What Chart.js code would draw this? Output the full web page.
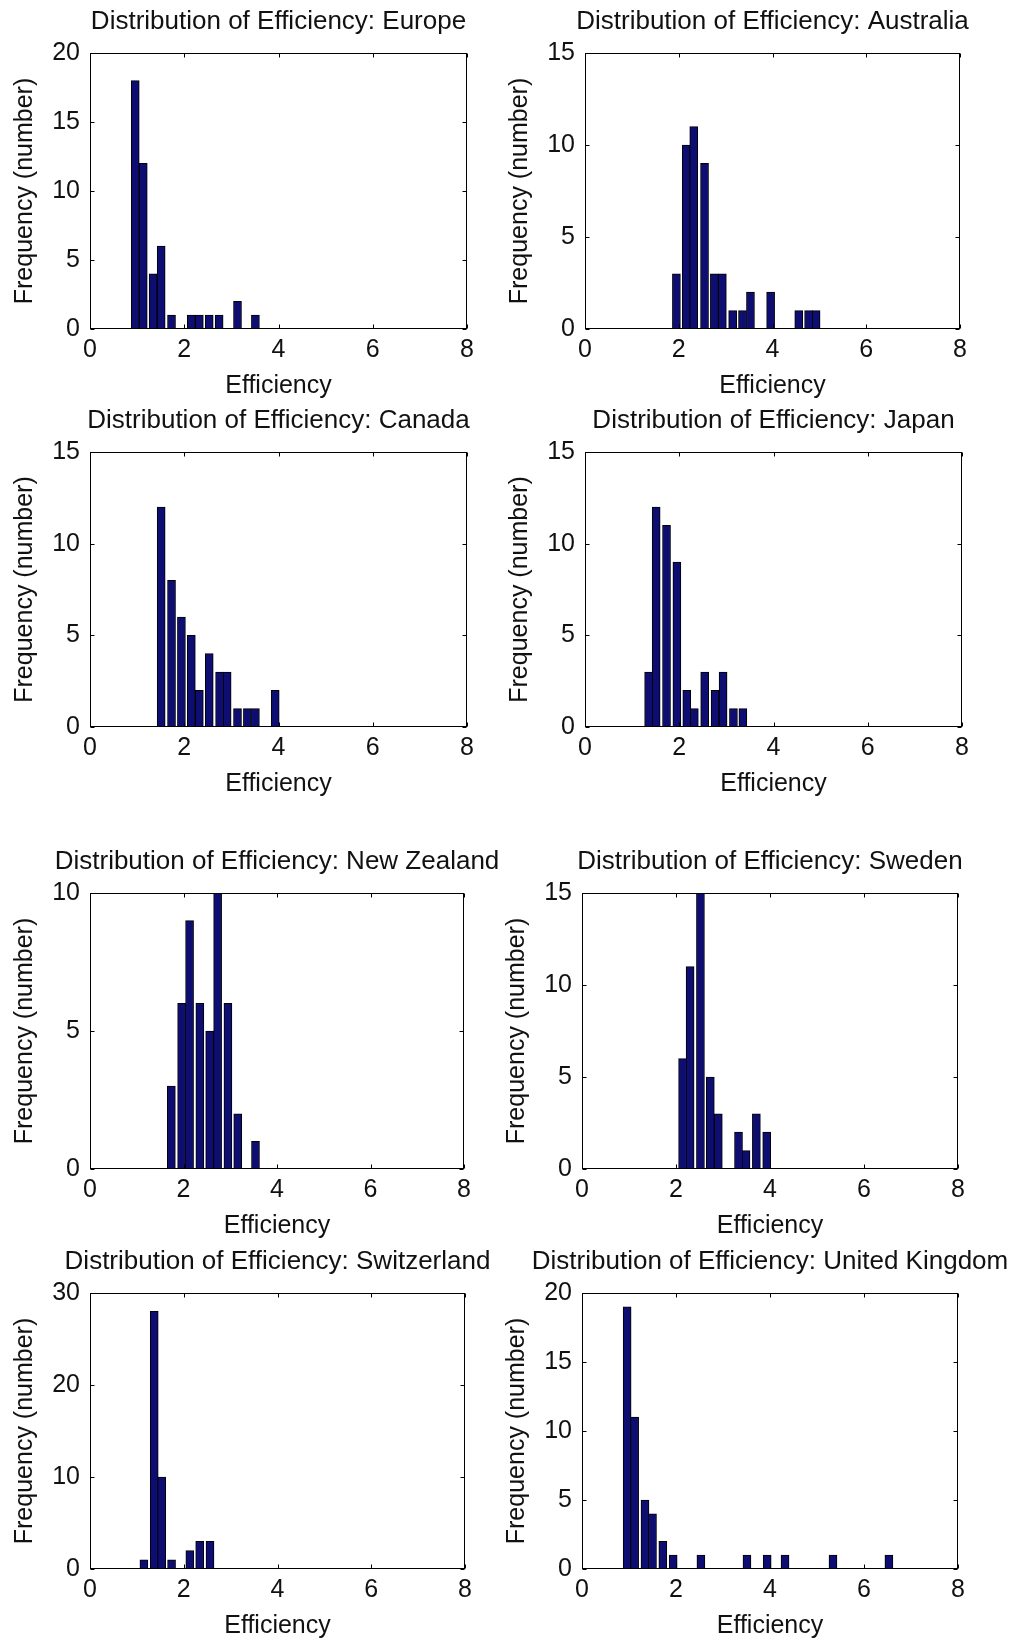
<!DOCTYPE html>
<html>
<head>
<meta charset="utf-8">
<script src="https://cdn.jsdelivr.net/npm/chart.js@4.4.1/dist/chart.umd.min.js"></script>
<style>
  html, body { margin: 0; padding: 0; background: #fff; overflow: hidden; }
  #wrap { position: relative; width: 1010px; height: 1644px; }
  #wrap canvas { position: absolute; }
</style>
</head>
<body>
<div id="wrap"></div>
<script>
// bin centres (Efficiency) and counts
const europeX = [0.96, 1.13, 1.34, 1.51, 1.73, 2.15, 2.32, 2.53, 2.74, 3.13, 3.51];
const europeY = [18, 12, 4, 6, 1, 1, 1, 1, 1, 2, 1];

const australiaX = [1.95, 2.16, 2.32, 2.55, 2.76, 2.93, 3.15, 3.36, 3.53, 3.96, 4.56, 4.77, 4.93];
const australiaY = [3, 10, 11, 9, 3, 3, 1, 1, 2, 2, 1, 1, 1];

const canadaX = [1.51, 1.73, 1.94, 2.15, 2.32, 2.53, 2.75, 2.91, 3.13, 3.34, 3.51, 3.93];
const canadaY = [12, 8, 6, 5, 2, 4, 3, 3, 1, 1, 1, 2];

const japanX = [1.35, 1.51, 1.73, 1.95, 2.16, 2.32, 2.54, 2.76, 2.93, 3.15, 3.35];
const japanY = [3, 12, 11, 9, 2, 1, 3, 2, 3, 1, 1];

const newZealandX = [1.74, 1.96, 2.13, 2.35, 2.56, 2.73, 2.95, 3.16, 3.54];
const newZealandY = [3, 6, 9, 6, 5, 10, 6, 2, 1];

const swedenX = [2.14, 2.30, 2.52, 2.73, 2.90, 3.33, 3.49, 3.71, 3.93];
const swedenY = [6, 11, 15, 5, 3, 2, 1, 3, 2];

const switzerlandX = [1.15, 1.37, 1.53, 1.74, 2.13, 2.34, 2.56];
const switzerlandY = [1, 28, 10, 1, 2, 3, 3];

const ukX = [0.96, 1.12, 1.34, 1.50, 1.72, 1.94, 2.53, 3.51, 3.94, 4.32, 5.34, 6.53];
const ukY = [19, 11, 5, 4, 2, 1, 1, 1, 1, 1, 1, 1];

const yMaxes = [20, 15, 15, 15, 10, 15, 30, 20];
const yStepSizes = [5, 5, 5, 5, 5, 5, 10, 5];

const titles = [
  "Distribution of Efficiency: Europe",
  "Distribution of Efficiency: Australia",
  "Distribution of Efficiency: Canada",
  "Distribution of Efficiency: Japan",
  "Distribution of Efficiency: New Zealand",
  "Distribution of Efficiency: Sweden",
  "Distribution of Efficiency: Switzerland",
  "Distribution of Efficiency: United Kingdom"
];
const xSeries = [europeX, australiaX, canadaX, japanX, newZealandX, swedenX, switzerlandX, ukX];
const ySeries = [europeY, australiaY, canadaY, japanY, newZealandY, swedenY, switzerlandY, ukY];

// plot-area boxes on the page: left, top, width, height
const plotBoxes = [
  [90, 53, 377, 276], [585, 53, 375, 276],
  [90, 452, 377, 275], [585, 452, 377, 275],
  [90, 893, 374, 276], [582, 893, 376, 276],
  [90, 1293, 375, 276], [582, 1293, 376, 276]
];

const FONT = "'Liberation Sans', Arial, sans-serif";
const TEXT = "#111";
const BAR_FILL = "#0e0e72";

// MATLAB style box with inward tick marks on all four sides
const boxPlugin = {
  id: "matlabBox",
  afterDraw(chart) {
    const { ctx, chartArea: a, scales } = chart;
    const L = Math.round(a.left) + 0.5, R = Math.round(a.right) - 0.5;
    const T = Math.round(a.top) + 0.5, B = Math.round(a.bottom) - 0.5;
    ctx.save();
    ctx.strokeStyle = "#000";
    ctx.lineWidth = 1;
    ctx.strokeRect(L, T, R - L, B - T);
    ctx.beginPath();
    scales.x.ticks.forEach(t => {
      const px = Math.round(scales.x.getPixelForValue(t.value)) + 0.5;
      ctx.moveTo(px, B); ctx.lineTo(px, B - 4);
      ctx.moveTo(px, T); ctx.lineTo(px, T + 4);
    });
    scales.y.ticks.forEach(t => {
      const py = Math.round(scales.y.getPixelForValue(t.value)) + 0.5;
      ctx.moveTo(L, py); ctx.lineTo(L + 4, py);
      ctx.moveTo(R, py); ctx.lineTo(R - 4, py);
    });
    ctx.stroke();
    ctx.restore();
  }
};

const wrap = document.getElementById("wrap");

titles.forEach((title, i) => {
  const [bx, by, bw, bh] = plotBoxes[i];
  const cv = document.createElement("canvas");
  cv.width = bw + 180;
  cv.height = bh + 138;
  cv.style.left = (bx - 90) + "px";
  cv.style.top = (by - 53) + "px";
  wrap.appendChild(cv);

  const pts = xSeries[i].map((x, k) => ({ x: x, y: ySeries[i][k] }));

  new Chart(cv.getContext("2d"), {
    type: "bar",
    data: {
      datasets: [{
        data: pts,
        backgroundColor: BAR_FILL,
        borderColor: "#000",
        borderWidth: 1,
        barThickness: 8
      }]
    },
    options: {
      responsive: false,
      animation: false,
      devicePixelRatio: 1,
      layout: { padding: 0 },
      plugins: {
        legend: { display: false },
        tooltip: { enabled: false },
        title: {
          display: true,
          text: title,
          color: TEXT,
          font: { family: FONT, size: 26, weight: "normal", lineHeight: 1 },
          padding: { top: 9, bottom: 18 }
        }
      },
      scales: {
        x: {
          type: "linear",
          min: 0, max: 8,
          offset: false,
          grid: { display: false, drawTicks: false },
          border: { display: false },
          ticks: { stepSize: 2, color: TEXT, font: { family: FONT, size: 25 }, padding: 6, maxRotation: 0 },
          title: { display: true, text: "Efficiency", color: TEXT, font: { family: FONT, size: 25 }, padding: { top: 0, bottom: 13 } },
          afterFit(s) { s.height = 85; }
        },
        y: {
          min: 0, max: yMaxes[i],
          grid: { display: false, drawTicks: false },
          border: { display: false },
          ticks: { stepSize: yStepSizes[i], color: TEXT, font: { family: FONT, size: 25 }, padding: 10 },
          title: { display: true, text: "Frequency (number)", color: TEXT, font: { family: FONT, size: 25 }, padding: { top: 10, bottom: 0 } },
          afterFit(s) { s.width = 90; }
        },
        // empty right-hand spacer so the title centres over the plot box
        yRight: {
          position: "right",
          min: 0, max: yMaxes[i],
          grid: { display: false, drawTicks: false },
          border: { display: false },
          ticks: { display: false },
          afterFit(s) { s.width = 90; }
        }
      }
    },
    plugins: [boxPlugin]
  });
});
</script>
</body>
</html>
